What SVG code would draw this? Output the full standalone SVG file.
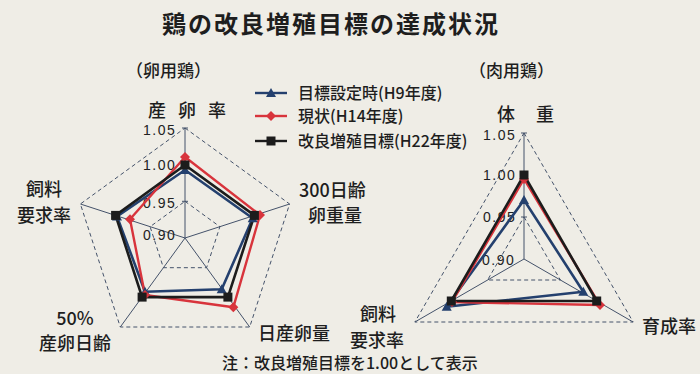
<svg xmlns="http://www.w3.org/2000/svg" width="700" height="374" viewBox="0 0 700 374">
<style>
text{font-family:"Noto Sans CJK JP","Noto Sans",sans-serif;fill:#1e1e1e}
.t{font-size:24px;font-weight:700;letter-spacing:2px}
.h{font-size:17px;font-weight:500}
.ax{font-size:18px;font-weight:500}
.num{font-family:"Liberation Sans",Arial,sans-serif;font-size:14px;letter-spacing:1.5px;fill:#222}
.lg{font-size:16px;font-weight:500}
.note{font-size:16px;font-weight:500}
.grid{fill:none;stroke:#44526a;stroke-width:1;stroke-dasharray:4 3}
.spoke{stroke:#44526a;stroke-width:1}
.tick{stroke:#44526a;stroke-width:1}
.blue{fill:none;stroke:#24406e;stroke-width:2.6;stroke-linejoin:round}
.red{fill:none;stroke:#d8343c;stroke-width:2.4;stroke-linejoin:round}
.blk{fill:none;stroke:#1c1c1c;stroke-width:2.6;stroke-linejoin:round}
</style>
<defs>
<path id="tri" d="M0,-5 L5,4 L-5,4 Z" fill="#24406e"/>
<path id="dia" d="M0,-5 L5,0 L0,5 L-5,0 Z" fill="#d8343c"/>
<rect id="sq" x="-4.5" y="-4.5" width="9" height="9" fill="#1c1c1c"/>
</defs>
<rect width="700" height="374" fill="#efede6"/>

<g id="title"><text class="t" x="162" y="33">鶏の改良増殖目標の達成状況</text></g>
<g id="head-layer"><text class="h" x="126" y="77">（卵用鶏）</text></g>
<g id="head-broiler"><text class="h" x="469" y="77">（肉用鶏）</text></g>

<g id="legend">
<line x1="255" y1="93" x2="287" y2="93" stroke="#24406e" stroke-width="2.4"/>
<use href="#tri" x="271" y="93"/>
<text class="lg" x="298" y="99">目標設定時(H9年度)</text>
<line x1="255" y1="116" x2="287" y2="116" stroke="#d8343c" stroke-width="2.4"/>
<use href="#dia" x="271" y="116"/>
<text class="lg" x="298" y="122">現状(H14年度)</text>
<line x1="255" y1="141" x2="287" y2="141" stroke="#1c1c1c" stroke-width="2.4"/>
<use href="#sq" x="271" y="141"/>
<text class="lg" x="298" y="147">改良増殖目標(H22年度)</text>
</g>

<!-- Left radar (egg-laying) -->
<g id="left-grid">
<polygon class="grid" points="185,128 289.6,204 249.7,327 120.3,327 80.4,204"/>
<polygon class="grid" points="185,165 254.4,215.4 227.9,297.1 142.1,297.1 115.6,215.4"/>
<polygon class="grid" points="185,201.3 219.9,226.7 206.6,267.7 163.4,267.7 150.1,226.7"/>
<line class="spoke" x1="185" y1="238" x2="185" y2="128" stroke="#8aa59a"/>
<line class="spoke" x1="185" y1="238" x2="289.6" y2="204"/>
<line class="spoke" x1="185" y1="238" x2="249.7" y2="327"/>
<line class="spoke" x1="185" y1="238" x2="120.3" y2="327"/>
<line class="spoke" x1="185" y1="238" x2="80.4" y2="204"/>
<path class="tick" d="M182,128h6M182,165h6M182,201.3h6"/>
</g>
<g id="left-labels">
<text class="num" x="143" y="135">1.05</text>
<text class="num" x="143" y="170">1.00</text>
<text class="num" x="143" y="208">0.95</text>
<text class="num" x="143" y="240">0.90</text>
<text class="ax" x="148" y="117" style="letter-spacing:12px">産卵率</text>
<text class="ax" x="299" y="197">300日齢</text>
<text class="ax" x="308" y="222">卵重量</text>
<text class="ax" x="258" y="340">日産卵量</text>
<text class="ax" x="75" y="325" text-anchor="middle">50%</text>
<text class="ax" x="75" y="350" text-anchor="middle">産卵日齢</text>
<text class="ax" x="44" y="196" text-anchor="middle">飼料</text>
<text class="ax" x="44" y="222" text-anchor="middle">要求率</text>
</g>
<g id="left-series">
<polygon class="blue" points="185,170 252.7,218.3 221.7,289.3 145,291.7 117,216.5"/>
<polygon class="red" points="185,157 260,215 233.3,307.3 145,295 130,219.3"/>
<polygon class="blk" points="185,165 254.4,215.4 227.9,297.1 142.1,297.1 115.6,215.4"/>
<use href="#tri" x="185" y="170"/><use href="#tri" x="252.7" y="218.3"/><use href="#tri" x="221.7" y="289.3"/><use href="#tri" x="145" y="291.7"/><use href="#tri" x="117" y="216.5"/>
<use href="#dia" x="185" y="157"/><use href="#dia" x="260" y="215"/><use href="#dia" x="233.3" y="307.3"/><use href="#dia" x="145" y="295"/><use href="#dia" x="130" y="219.3"/>
<use href="#sq" x="185" y="165"/><use href="#sq" x="254.4" y="215.4"/><use href="#sq" x="227.9" y="297.1"/><use href="#sq" x="142.1" y="297.1"/><use href="#sq" x="115.6" y="215.4"/>
</g>

<!-- Right radar (broiler) -->
<g id="right-grid">
<polygon class="grid" points="524,133 633.1,322 414.9,322"/>
<polygon class="grid" points="524,175 596.7,301 451.3,301"/>
<polygon class="grid" points="524,217 560.4,280 487.6,280"/>
<line class="spoke" x1="524" y1="259" x2="524" y2="133" stroke="#9a5a3c"/>
<line class="spoke" x1="524" y1="259" x2="633.1" y2="322"/>
<line class="spoke" x1="524" y1="259" x2="414.9" y2="322"/>
<path class="tick" d="M521,133h6M521,175h6M521,217h6"/>
</g>
<g id="right-labels">
<text class="num" x="483" y="140">1.05</text>
<text class="num" x="483" y="180">1.00</text>
<text class="num" x="483" y="222">0.95</text>
<text class="num" x="482" y="265">0.90</text>
<text class="ax" x="497" y="121" style="letter-spacing:21px">体重</text>
<text class="ax" x="642" y="333">育成率</text>
<text class="ax" x="378" y="321" text-anchor="middle">飼料</text>
<text class="ax" x="377" y="347" text-anchor="middle">要求率</text>
</g>
<g id="right-series">
<polygon class="blue" points="524,200 583.3,291.7 446.7,306.7"/>
<polygon class="red" points="524,179 600,305 452,302"/>
<polygon class="blk" points="524,175 596.7,301 451.3,301"/>
<use href="#tri" x="524" y="200"/><use href="#tri" x="583.3" y="291.7"/><use href="#tri" x="446.7" y="306.7"/>
<use href="#dia" x="524" y="179"/><use href="#dia" x="600" y="305"/><use href="#dia" x="452" y="302"/>
<use href="#sq" x="524" y="175"/><use href="#sq" x="596.7" y="301"/><use href="#sq" x="451.3" y="301"/>
</g>

<g id="note"><text class="note" x="222" y="369">注：改良増殖目標を1.00として表示</text></g>
</svg>
